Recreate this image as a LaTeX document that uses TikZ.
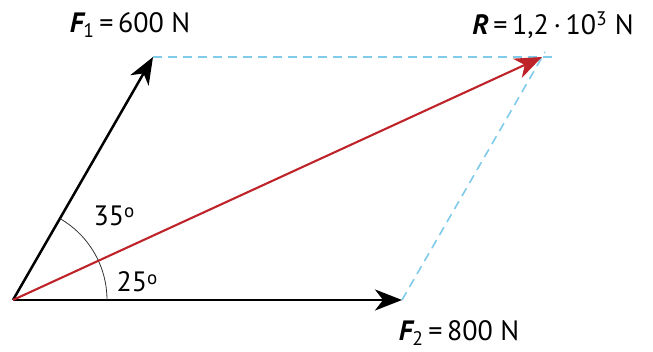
\documentclass[tikz,border=0pt]{standalone}
\usepackage{fontspec}
\setmainfont{PT Sans}
\usetikzlibrary{arrows.meta,calc,positioning}

\definecolor{resred}{RGB}{190,35,42}
\definecolor{guideblue}{RGB}{128,202,234}

\newcommand{\degsign}{\raisebox{0.55ex}{\fontsize{19pt}{19pt}\selectfont o}}

\tikzset{
  force/.style={line width=2.5pt, -{Stealth[length=27pt,width=21pt,inset=8pt]}},
  resultant/.style={force, resred, line width=2.1pt},
  guide/.style={guideblue, line width=1.6pt, dash pattern=on 9pt off 6pt},
  anglearc/.style={line width=0.8pt, black!80},
  lbl/.style={font=\fontsize{28pt}{32pt}\selectfont, inner sep=0pt}
}

\begin{document}
\begin{tikzpicture}
\useasboundingbox (0,0) rectangle (653pt,352pt);

\coordinate (O) at (13pt, 52pt);
\coordinate (F1) at (153pt, 295pt);
\coordinate (F2) at (402pt, 52pt);
\coordinate (R) at (542pt, 295pt);
\coordinate (Rend) at ($(R) + (10pt,0)$);
\coordinate (Rtop) at ($(R) + (3pt,5pt)$);

\draw [guide] (F1) -- (Rend);
\draw [guide] (F2) -- (Rtop);

\draw [force] (O) -- (F1);
\draw [force] (O) -- (F2);
\draw [resultant] (O) -- (R);

\draw [anglearc] ($(O) + (60:94pt)$) arc [start angle=60, end angle=25, radius=94pt];
\draw [anglearc] ($(O) + (24:94pt)$) arc [start angle=24, end angle=0, radius=94pt];

\node[lbl] (a35) at ($(O) + (101pt,84pt)$) {35\degsign};
\node[lbl] (a25) at ($(O) + (124pt,18pt)$) {25\degsign};

\node[lbl] (lF1) at (130pt, 327pt) {{\bfseries\itshape F}\textsubscript{1}\,=\,600 N};
\node[lbl] (lR) at (553pt, 327pt) {{\bfseries\itshape R}\,=\,1,2\,·\,10\textsuperscript{3} N};
\node[lbl] (lF2) at (459pt, 19pt) {{\bfseries\itshape F}\textsubscript{2}\,=\,800 N};
\end{tikzpicture}
\end{document}
